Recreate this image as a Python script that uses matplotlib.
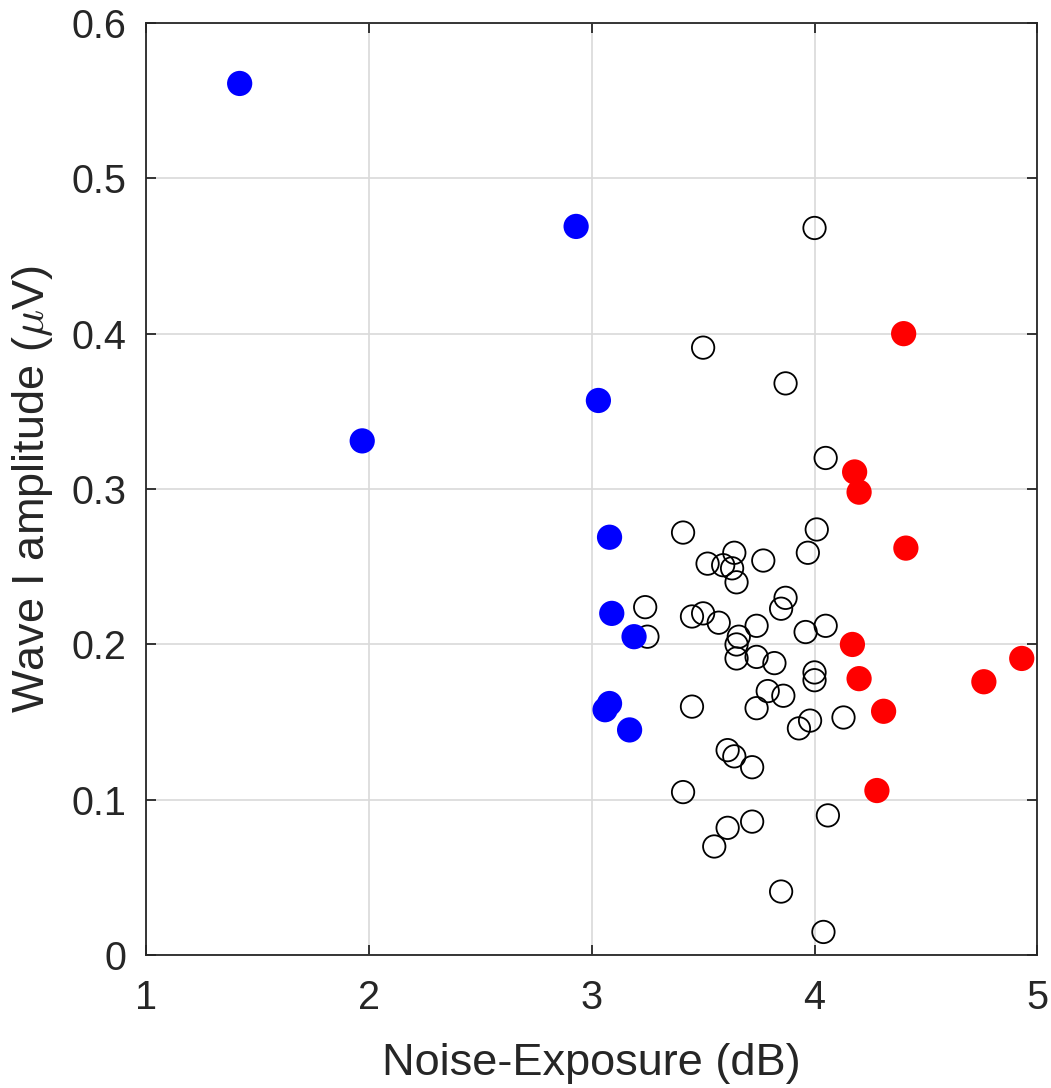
import numpy as np
import matplotlib
matplotlib.use("Agg")
import matplotlib.pyplot as plt

plt.rcParams['font.family'] = ['Liberation Sans', 'DejaVu Sans']
plt.rcParams['mathtext.fontset'] = 'cm'

# low-exposure group (blue)
blue_x = [1.42, 1.97, 2.93, 3.03, 3.08, 3.09, 3.19, 3.08, 3.06, 3.17]
blue_y = [0.561, 0.331, 0.469, 0.357, 0.269, 0.220, 0.205, 0.162, 0.158, 0.145]

# high-exposure group (red)
red_x = [4.40, 4.18, 4.20, 4.41, 4.17, 4.20, 4.31, 4.28, 4.76, 4.93]
red_y = [0.400, 0.311, 0.298, 0.262, 0.200, 0.178, 0.157, 0.106, 0.176, 0.191]

# everyone else (open circles)
mid_x = [4.00, 3.50, 3.87, 4.05, 4.01, 3.41, 3.97, 3.64, 3.52, 3.59,
         3.63, 3.77, 3.65, 3.87, 3.85, 3.24, 3.45, 3.50, 3.57, 3.74,
         3.66, 3.65, 3.25, 3.96, 4.05, 3.65, 3.74, 3.82, 4.00, 4.00,
         3.79, 3.86, 3.45, 3.74, 3.98, 3.93, 4.13, 3.61, 3.64, 3.72,
         3.41, 4.06, 3.61, 3.72, 3.55, 3.85, 4.04]
mid_y = [0.468, 0.391, 0.368, 0.320, 0.274, 0.272, 0.259, 0.259, 0.252, 0.251,
         0.249, 0.254, 0.240, 0.230, 0.223, 0.224, 0.218, 0.220, 0.214, 0.212,
         0.205, 0.200, 0.205, 0.208, 0.212, 0.191, 0.192, 0.188, 0.182, 0.177,
         0.170, 0.167, 0.160, 0.159, 0.151, 0.146, 0.153, 0.132, 0.128, 0.121,
         0.105, 0.090, 0.082, 0.086, 0.070, 0.041, 0.015]

fig = plt.figure(figsize=(10.51, 10.88), dpi=100)
ax = fig.add_axes([0.139, 0.122, 0.848, 0.857])

ax.scatter(mid_x, mid_y, s=260, facecolors='none', edgecolors='black', linewidths=1.3, zorder=3)
ax.scatter(blue_x, blue_y, s=330, color='#0000ff', edgecolors='none', zorder=4)
ax.scatter(red_x, red_y, s=330, color='#ff0000', edgecolors='none', zorder=4)

ax.set_xlim(1, 5)
ax.set_ylim(0, 0.6)
ax.set_xticks([1, 2, 3, 4, 5])
ax.set_yticks([0, 0.1, 0.2, 0.3, 0.4, 0.5, 0.6])
ax.set_yticklabels(['0', '0.1', '0.2', '0.3', '0.4', '0.5', '0.6'])
ax.grid(True, color='#d9d9d9', linewidth=1.2, zorder=0)
ax.set_axisbelow(True)

for sp in ax.spines.values():
    sp.set_color('#262626')
    sp.set_linewidth(1.3)
ax.tick_params(direction='in', length=7, width=1.3, colors='#262626',
               labelsize=28.5, top=True, right=True)
ax.tick_params(axis='x', pad=17)
ax.tick_params(axis='y', pad=14)

ax.set_xlabel('Noise-Exposure (dB)', fontsize=32.5, color='#262626', labelpad=19)
ax.set_ylabel(r'Wave I amplitude ($\mu$V)', fontsize=32.5, color='#262626', labelpad=12)

fig.savefig('out.png', dpi=100)
